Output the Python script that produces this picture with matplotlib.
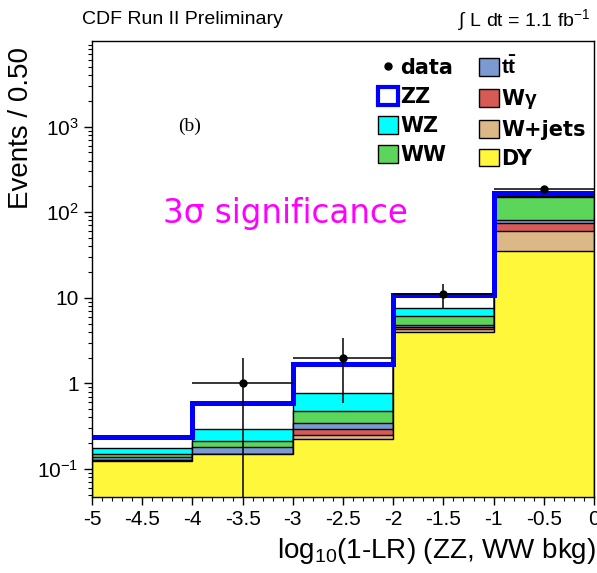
import numpy as np
import matplotlib
matplotlib.use("Agg")
import matplotlib.pyplot as plt
from matplotlib.patches import Patch
from matplotlib.lines import Line2D

# Bin edges in log10(1-LR)
edges = np.array([-5.0, -4.0, -3.0, -2.0, -1.0, 0.0])

# Expected events per bin for each process (stack order: bottom -> top)
dy     = np.array([0.125, 0.148, 0.222, 4.00, 35.0])
wjets  = np.array([0.001, 0.001, 0.028, 0.29, 24.6])
wgamma = np.array([0.001, 0.001, 0.041, 0.28, 15.2])
ttbar  = np.array([0.012, 0.032, 0.057, 0.30, 6.2])
ww     = np.array([0.012, 0.031, 0.125, 1.24, 70.0])
wz     = np.array([0.024, 0.083, 0.307, 1.53, 2.0])
zz     = np.array([0.062, 0.290, 0.910, 3.20, 13.0])

# Observed events
data = np.array([0, 1, 2, 11, 188])

x_ticks = [-5, -4.5, -4, -3.5, -3, -2.5, -2, -1.5, -1, -0.5, 0]
x_tick_labels = ["-5", "-4.5", "-4", "-3.5", "-3", "-2.5", "-2", "-1.5", "-1", "-0.5", "0"]
y_ticks = [0.1, 1, 10, 100, 1000]
y_tick_labels = [r"$10^{-1}$", "1", "10", r"$10^{2}$", r"$10^{3}$"]

plt.rcParams["font.family"] = ["Liberation Sans", "DejaVu Sans"]
plt.rcParams["mathtext.fontset"] = "custom"
plt.rcParams["mathtext.rm"] = "Liberation Sans"
plt.rcParams["mathtext.it"] = "Liberation Sans:italic"
plt.rcParams["mathtext.bf"] = "Liberation Sans:bold"

fig = plt.figure(figsize=(5.97, 5.73), dpi=100)
ax = fig.add_axes([92 / 597, 1 - 497 / 573, (594 - 92) / 597, (497 - 41) / 573])
ax.set_yscale("log")

col_dy, col_wj, col_wg, col_tt, col_ww, col_wz = (
    "#FFF73A", "#DDB887", "#D65A55", "#7B9AD2", "#5CD65A", "#00FFFF")

components = [
    (dy, col_dy),
    (wjets, col_wj),
    (wgamma, col_wg),
    (ttbar, col_tt),
    (ww, col_ww),
    (wz, col_wz),
]

cum = []
running = np.zeros_like(dy)
for vals, col in components:
    running = running + vals
    cum.append(running.copy())
total = running + zz

base = 1e-4
# ZZ on top: white fill with thick blue outline
ax.stairs(total, edges, baseline=base, fill=True, facecolor="white", edgecolor="none", zorder=1)
ax.stairs(total, edges, baseline=None, color="#0000FF", lw=3.6, zorder=5)
for (vals, col), c in reversed(list(zip(components, cum))):
    ax.stairs(c, edges, baseline=base, fill=True, facecolor=col, edgecolor="black",
              lw=1.0, zorder=2)

# Data points with sqrt(N) errors
centers = 0.5 * (edges[:-1] + edges[1:])
mask = data > 0
err = np.sqrt(data[mask])
lower = np.minimum(err, data[mask] - 1e-4)
ax.errorbar(centers[mask], data[mask], yerr=[lower, err], xerr=0.5, fmt="o",
            color="black", ms=5, elinewidth=1.1, capsize=0, zorder=6)

ax.set_xlim(-5, 0)
ax.set_ylim(0.047, 1.0e4)
ax.set_xticks(x_ticks)
ax.set_xticklabels(x_tick_labels)
ax.set_xticks(np.arange(-5, 0.001, 0.1), minor=True)
ax.set_yticks(y_ticks)
ax.set_yticklabels(y_tick_labels)
ax.tick_params(axis="both", which="major", labelsize=15, direction="out", length=6, width=1)
ax.tick_params(axis="both", which="minor", direction="out", length=3, width=0.8)
ax.tick_params(axis="y", which="minor", labelleft=False)
for s in ax.spines.values():
    s.set_linewidth(1.0)

ax.set_ylabel("Events / 0.50", fontsize=20)
ax.yaxis.set_label_coords(-0.115, 0.81)
ax.set_xlabel(r"log$_{10}$(1-LR) (ZZ, WW bkg)", fontsize=20, ha="right")
ax.xaxis.set_label_coords(1.005, -0.085)

fig.text(82 / 597, 1 - 20 / 573, "CDF Run II Preliminary", fontsize=14, va="center", ha="left")
fig.text(590 / 597, 1 - 20 / 573, r"$\int$ L dt = 1.1 fb$^{-1}$", fontsize=14, va="center", ha="right")

fig.text(190 / 597, 1 - 126 / 573, "(b)", fontsize=14, family="Liberation Serif", ha="center", va="center")
fig.text(163 / 597, 1 - 214 / 573, "3σ significance", fontsize=23.5, color="#FF00FF",
         family="DejaVu Sans", ha="left", va="center")

handles = [
    Line2D([], [], marker="o", color="black", ls="none", ms=5),
    Patch(facecolor="white", edgecolor="#0000FF", lw=3),
    Patch(facecolor=col_wz, edgecolor="black", lw=1),
    Patch(facecolor=col_ww, edgecolor="black", lw=1),
    Patch(facecolor=col_tt, edgecolor="black", lw=1),
    Patch(facecolor=col_wg, edgecolor="black", lw=1),
    Patch(facecolor=col_wj, edgecolor="black", lw=1),
    Patch(facecolor=col_dy, edgecolor="black", lw=1),
]
labels = ["data", "ZZ", "WZ", "WW", r"$\mathbf{t\bar{t}}$", r"W$\mathbf{\gamma}$", "W+jets", "DY"]
leg = ax.legend(handles, labels, ncol=2, frameon=False, loc="upper left",
                bbox_to_anchor=(0.5697, 0.968), borderaxespad=0, borderpad=0,
                prop={"weight": "bold", "size": 15, "family": "DejaVu Sans"},
                handlelength=0.95, handleheight=0.95, handletextpad=0.12,
                columnspacing=1.25, labelspacing=0.42)
leg.set_zorder(10)

fig.savefig("out.png", dpi=100)
